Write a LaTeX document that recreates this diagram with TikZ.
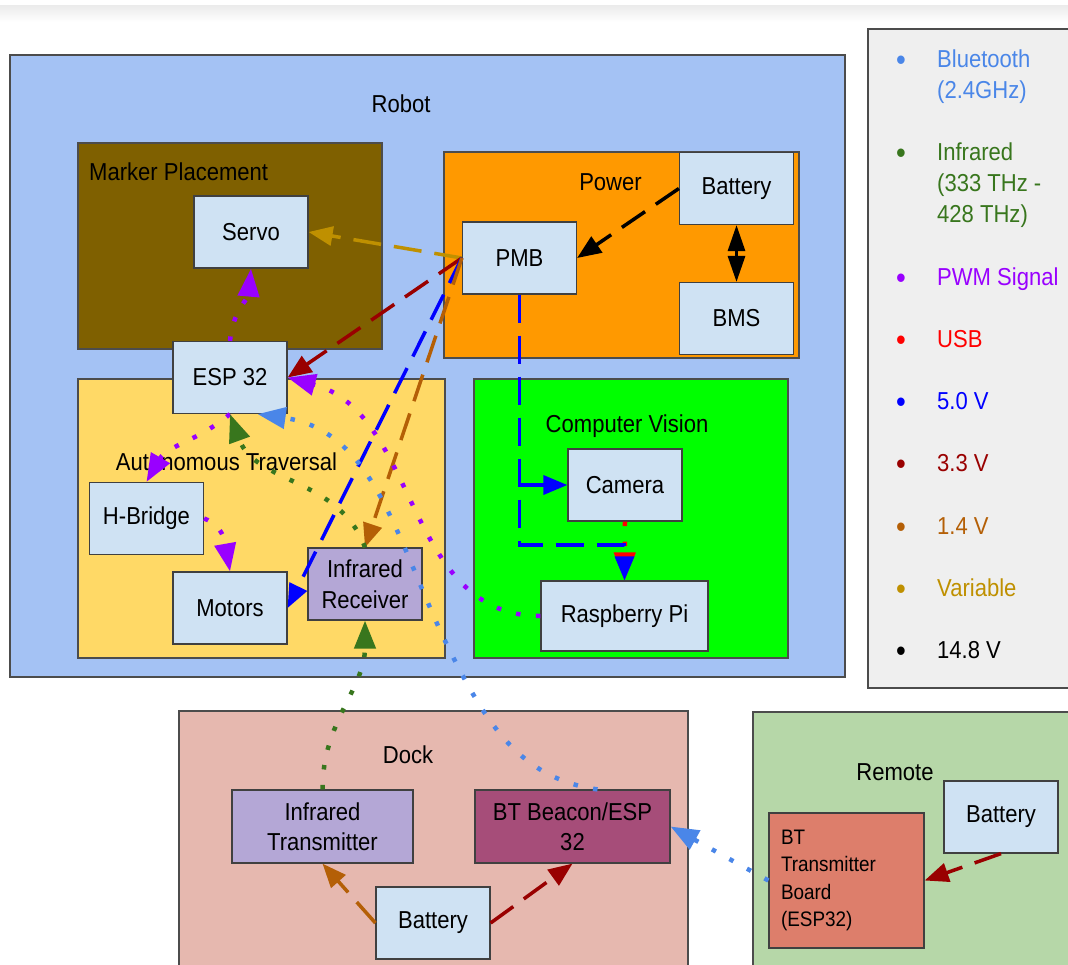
\documentclass[tikz,border=0pt]{standalone}
\usepackage{fontspec}
\setmainfont[FakeStretch=0.9]{Liberation Sans}
\usepackage{xcolor}
\usetikzlibrary{arrows.meta, positioning, calc}

\definecolor{robotblue}{HTML}{A4C2F4}
\definecolor{markerbrown}{HTML}{7F6000}
\definecolor{powerorange}{HTML}{FF9900}
\definecolor{travyellow}{HTML}{FFD966}
\definecolor{cvgreen}{HTML}{00FF00}
\definecolor{dockpink}{HTML}{E6B8AF}
\definecolor{remotegreen}{HTML}{B6D7A8}
\definecolor{boxblue}{HTML}{CFE2F3}
\definecolor{irpurple}{HTML}{B4A7D6}
\definecolor{beaconplum}{HTML}{A64D79}
\definecolor{boardsalmon}{HTML}{DD7E6B}
\definecolor{legendgray}{HTML}{EFEFEF}
\definecolor{btcol}{HTML}{4A86E8}
\definecolor{ircol}{HTML}{38761D}
\definecolor{pwmcol}{HTML}{9900FF}
\definecolor{usbcol}{HTML}{FF0000}
\definecolor{vfivecol}{HTML}{0000FF}
\definecolor{vthreecol}{HTML}{990000}
\definecolor{vonecol}{HTML}{B45F06}
\definecolor{varcol}{HTML}{BF9000}

\begin{document}
\begin{tikzpicture}[
    x=1pt, y=1pt,
    group/.style={
      rectangle, draw=black!70, line width=1.2pt, inner sep=0pt
    },
    box/.style={
      rectangle, draw=black!75, line width=1.2pt, fill=boxblue,
      minimum width=114pt, minimum height=72pt, inner sep=2pt,
      align=center, font=\fontsize{24.5}{30.5}\selectfont
    },
    title/.style={inner sep=0pt, font=\fontsize{24.5}{30.5}\selectfont},
    legtext/.style={
      anchor=north west, align=left, inner sep=0pt,
      font=\fontsize{24.5}{31}\selectfont
    },
    legdot/.style={anchor=base, inner sep=0pt, font=\fontsize{31}{31}\selectfont},
    pwr/.style={line width=3.5pt, dash pattern=on 28pt off 13pt,
      -{Triangle[length=24pt, width=19pt]}},
    sig/.style={line width=4.5pt, dash pattern=on 4.5pt off 15.5pt,
      -{Triangle[length=28pt, width=21pt]}}
  ]

  \useasboundingbox (0,0) rectangle (1068,-964);
  \clip (0,0) rectangle (1068,-964);
  \fill[white] (0,0) rectangle (1068,-964);
  \shade[top color=black!8, bottom color=white] (0,-5) rectangle (1068,-22);

  % Group areas
  \node[group, fill=robotblue, minimum width=835pt, minimum height=622pt] (robot) at (427.5,-366) {};
  \node[group, fill=markerbrown, minimum width=304pt, minimum height=206pt] (marker) at (230,-246) {};
  \node[group, fill=powerorange, minimum width=355pt, minimum height=206pt] (power) at (621.5,-255) {};
  \node[group, fill=travyellow, minimum width=367pt, minimum height=279pt] (trav) at (261.5,-518.5) {};
  \node[group, fill=cvgreen, minimum width=314pt, minimum height=279pt] (cv) at (631,-518.5) {};
  \node[group, fill=legendgray, minimum width=212pt, minimum height=659pt] (legend) at (974,-358.5) {};
  \node[group, fill=dockpink, minimum width=509pt, minimum height=269pt] (dock) at (433.5,-845.5) {};
  \node[group, fill=remotegreen, minimum width=327pt, minimum height=268pt] (remote) at (916.5,-846) {};

  % Group titles
  \node[title, anchor=base] (robotlbl) at (401,-112) {Robot};
  \node[title, anchor=base west] (markerlbl) at (89,-180) {Marker Placement};
  \node[title, anchor=base] (powerlbl) at (610.5,-190) {Power};
  \node[title, anchor=base] (travlbl) at (226.5,-470) {Autonomous Traversal};
  \node[title, anchor=base] (cvlbl) at (627,-432) {Computer Vision};
  \node[title, anchor=base] (docklbl) at (408,-763) {Dock};
  \node[title, anchor=base] (remotelbl) at (895,-780) {Remote};

  % Robot parts
  \node[box] (servo)  at (251,-232)   {Servo};
  \node[box] (pmb)    at (519.5,-258) {PMB};
  \node[box] (batp)   at (736.5,-188.5) {Battery};
  \node[box] (bms)    at (736.5,-318.5) {BMS};
  \node[box] (esp)    at (230,-377.5) {ESP 32};
  \node[box] (hb)     at (146.5,-518.5) {H-Bridge};
  \node[box] (motors) at (230,-608)   {Motors};
  \node[box, fill=irpurple] (irr) at (365,-584) {Infrared\\Receiver};
  \node[box] (cam)    at (625,-485)   {Camera};
  \node[box, minimum width=167pt, minimum height=70pt] (rpi) at (624.5,-616) {Raspberry Pi};

  % Dock and remote parts
  \node[box, fill=irpurple, minimum width=181pt, minimum height=73pt] (irt) at (322.5,-826.5) {Infrared\\Transmitter};
  \node[box, fill=beaconplum, minimum width=195pt, minimum height=73pt] (btb) at (572.5,-826.5) {BT Beacon/ESP\\32};
  \node[box] (dbat) at (433,-923) {Battery};
  \node[box] (rbat) at (1001,-817) {Battery};
  \node[box, fill=boardsalmon, minimum width=155pt, minimum height=135pt,
        text width=131pt, align=left, font=\fontsize{21}{27.3}\selectfont]
    (btt) at (846.5,-880.5) {BT\\Transmitter\\Board\\(ESP32)};

  % Legend
  \node[legdot, btcol] (dot1) at (901,-70) {•};
  \node[legtext, btcol] (leg1) at (937,-50) {Bluetooth\\(2.4GHz)};
  \node[legdot, ircol] (dot2) at (901,-163) {•};
  \node[legtext, ircol] (leg2) at (937,-143) {Infrared\\(333 THz -\\428 THz)};
  \node[legdot, pwmcol] (dot3) at (901,-288) {•};
  \node[legtext, pwmcol] (leg3) at (937,-268) {PWM Signal};
  \node[legdot, usbcol] (dot4) at (901,-350) {•};
  \node[legtext, usbcol] (leg4) at (937,-330) {USB};
  \node[legdot, vfivecol] (dot5) at (901,-412) {•};
  \node[legtext, vfivecol] (leg5) at (937,-392) {5.0 V};
  \node[legdot, vthreecol] (dot6) at (901,-474) {•};
  \node[legtext, vthreecol] (leg6) at (937,-454) {3.3 V};
  \node[legdot, vonecol] (dot7) at (901,-537) {•};
  \node[legtext, vonecol] (leg7) at (937,-517) {1.4 V};
  \node[legdot, varcol] (dot8) at (901,-599) {•};
  \node[legtext, varcol] (leg8) at (937,-579) {Variable};
  \node[legdot, black] (dot9) at (901,-661) {•};
  \node[legtext, black] (leg9) at (937,-641) {14.8 V};

  % Power lines inside the robot
  \draw[pwr, black] (batp.west) -- (pmb.east);
  \draw[black, line width=3pt,
        {Triangle[length=26pt, width=17pt]}-{Triangle[length=26pt, width=17pt]}]
    (batp.south) -- (bms.north);
  \draw[pwr, varcol]    (pmb.west) -- (servo.east);
  \draw[pwr, vthreecol] (pmb.west) -- (esp.east);
  \draw[pwr, vfivecol]  (pmb.west) -- (motors.east);
  \draw[pwr, vonecol]   (pmb.west) -- (irr.north);

  % USB camera -> Pi, under the 5 V feed
  \draw[sig, usbcol] (cam.south) -- (rpi.north);
  \coordinate (cvbend) at (519.5,-545);
  \draw[pwr, vfivecol] (pmb.south) -- (cvbend) -| (rpi.north);
  \draw[pwr, vfivecol] (pmb.south |- cam.west) -- (cam.west);

  % PWM signals
  \draw[sig, pwmcol] (esp.north) to[out=85, in=-95] (servo.south);
  \draw[sig, pwmcol] (esp.south) to[out=-140, in=60] (hb.north);
  \draw[sig, pwmcol] (hb.east) to[out=-20, in=100] (motors.north);
  \draw[sig, pwmcol] (rpi.west) to[out=180, in=-15] (esp.east);

  % Infrared link
  \draw[sig, ircol] (irr.north) to[out=110, in=-70] (esp.south);
  \draw[sig, ircol] (irt.north) to[out=90, in=-90] (irr.south);

  % Bluetooth links
  \coordinate (btmid) at (453,-657);
  \draw[sig, btcol] ([xshift=25pt]btb.north) to[out=172, in=-63] (btmid)
    to[out=117, in=-8] ([xshift=-30pt]esp.south east);
  \draw[sig, btcol] (btt.west) -- (btb.east);

  % Dock and remote power
  \draw[pwr, vonecol]   (dbat.west) -- (irt.south);
  \draw[pwr, vthreecol] (dbat.east) -- (btb.south);
  \draw[pwr, vthreecol] (rbat.south) -- (btt.east);

\end{tikzpicture}
\end{document}
